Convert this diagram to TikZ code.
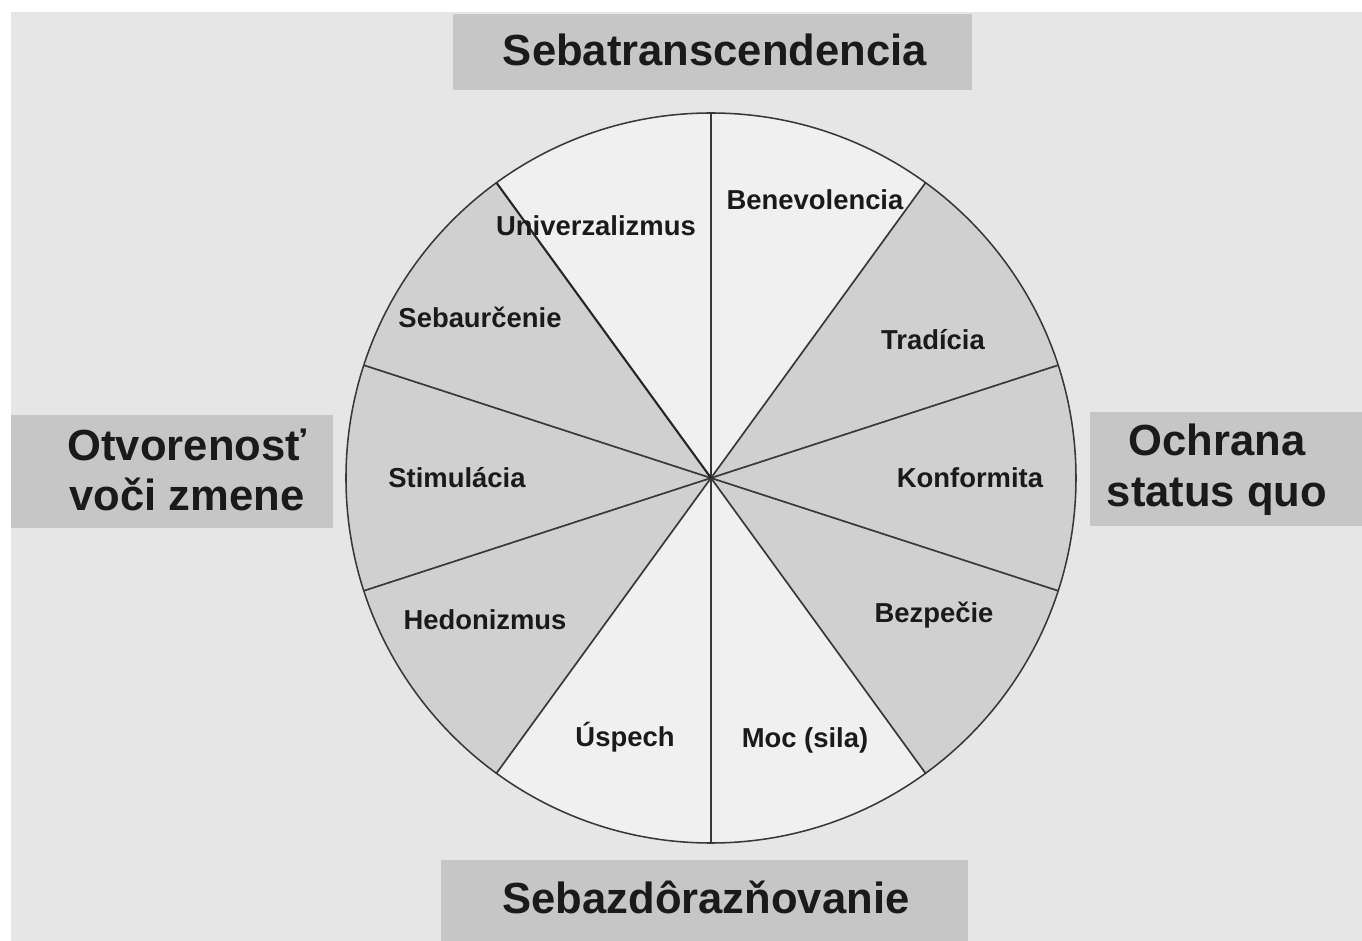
\documentclass[tikz,border=0pt]{standalone}
\usepackage{fontspec}
\setmainfont{Liberation Sans}
\usetikzlibrary{positioning,calc}

\definecolor{bgGray}{HTML}{E6E6E6}
\definecolor{boxGray}{HTML}{C6C6C6}
\definecolor{lightSec}{HTML}{F0F0F0}
\definecolor{darkSec}{HTML}{D0D0D0}
\definecolor{lineGray}{HTML}{383838}
\definecolor{inkBlack}{HTML}{1A1A1A}

\begin{document}
\begin{tikzpicture}[
  headbox/.style={fill=boxGray, inner sep=0pt},
  header/.style={inner sep=0pt, align=center, text=inkBlack,
                 font=\fontsize{31}{36}\selectfont\bfseries},
  value/.style={inner sep=1pt, text=inkBlack,
                font=\fontsize{19.5}{23}\selectfont\bfseries},
  spoke/.style={draw=lineGray, line width=1.2pt},
  rim/.style={draw=lineGray, line width=1.1pt},
]
\def\R{9.125}
\useasboundingbox (-17.775,-11.575) rectangle (16.275,11.95);
\fill[white] (-17.775,-11.575) rectangle (16.275,11.95);
\fill[bgGray] (-17.5,-11.575) rectangle (16.275,11.65);

\coordinate (c) at (0,0);

% sectors
\foreach \s/\col in {54/lightSec, 90/lightSec, 126/darkSec, 162/darkSec,
                     198/darkSec, 234/lightSec, 270/lightSec, 306/darkSec,
                     342/darkSec, 18/darkSec}
  \fill[\col] (c) -- (\s:\R) arc[start angle=\s, end angle=\s+36, radius=\R] -- cycle;

% spokes and rim
\foreach \s in {18,54,90,162,198,234,270,306,342}
  \draw[spoke] (c) -- (\s:\R);
\draw[spoke, line width=1.5pt, draw=black!85] (c) -- (126:\R);
\draw[rim] (c) circle[radius=\R];

% values
\node[value] (univ)  at (-2.875,6.3)   {Univerzalizmus};
\node[value] (benev) at (2.6,6.95)     {Benevolencia};
\node[value] (sebau) at (-5.775,4.025) {Sebaurčenie};
\node[value] (trad)  at (5.55,3.45)    {Tradícia};
\node[value] (stim)  at (-6.35,0)      {Stimulácia};
\node[value] (konf)  at (6.475,0)      {Konformita};
\node[value] (hedon) at (-5.65,-3.55)  {Hedonizmus};
\node[value] (bezp)  at (5.575,-3.425) {Bezpečie};
\node[value] (uspech) at (-2.15,-6.475) {Úspech};
\node[value] (moc)   at (2.35,-6.55)   {Moc (sila)};

% higher-order dimensions
\node[headbox, minimum width=12.975cm, minimum height=1.9cm] (transbox) at (0.0375,10.65) {};
\node[header] (transtext) at ($(transbox.center)+(0.06,0.05)$) {Sebatranscendencia};

\node[headbox, minimum width=13.175cm, minimum height=2.025cm] (enhbox) at (-0.1625,-10.5625) {};
\node[header] (enhtext) at (-0.125,-10.475) {Sebazdôrazňovanie};

\node[headbox, minimum width=8.05cm, minimum height=2.825cm] (openbox) at (-13.475,0.1625) {};
\node[header] (opentext) at (-13.1,0.2) {Otvorenosť\\voči zmene};

\node[headbox, minimum width=6.8cm, minimum height=2.85cm] (consbox) at (12.875,0.225) {};
\node[header] (constext) at (12.65,0.2) {Ochrana\\status quo};

\end{tikzpicture}
\end{document}
